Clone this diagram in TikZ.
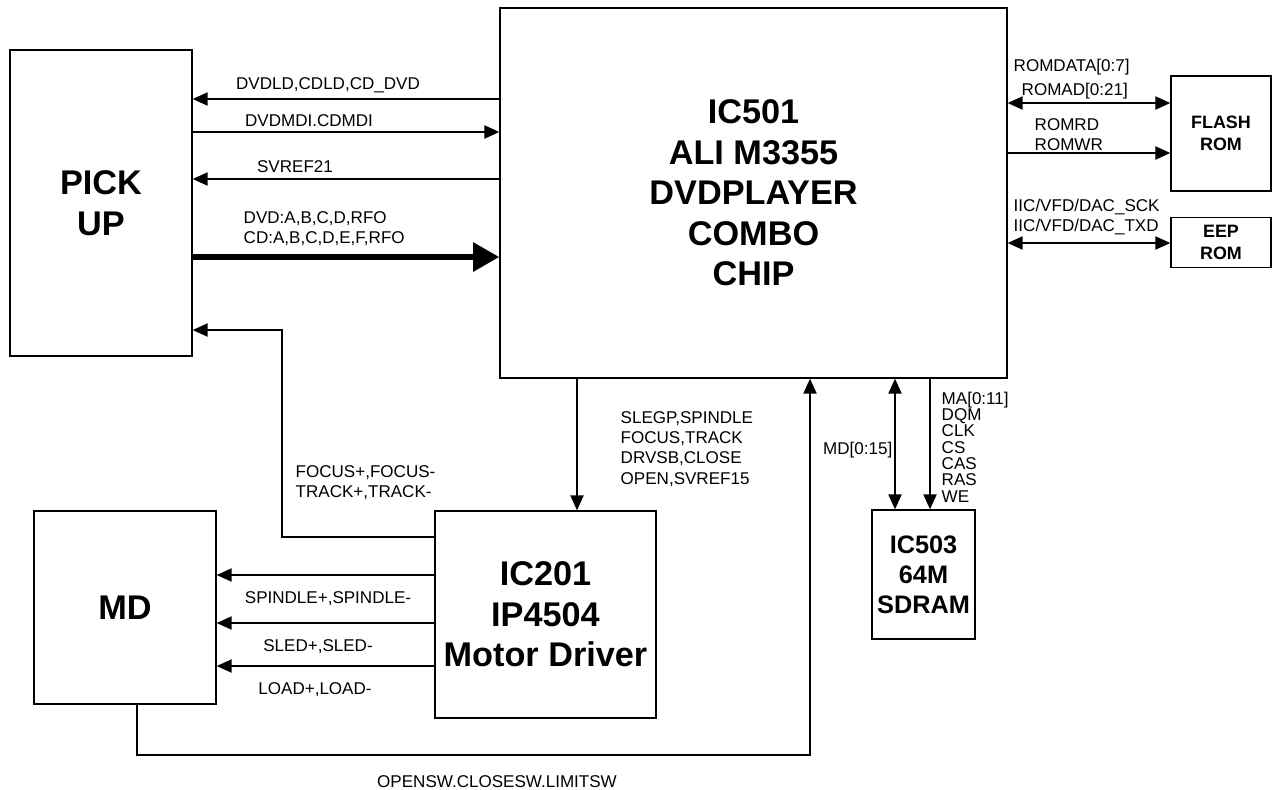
\documentclass[tikz,border=0pt]{standalone}
\usepackage{fontspec}
\setmainfont{Liberation Sans}
\usepackage{tikz}
\usetikzlibrary{arrows.meta}
\usetikzlibrary{positioning}

\begin{document}
\begin{tikzpicture}[x=0.02cm,y=-0.02cm,>={Triangle[length=8.5pt,width=7.5pt]},
	line width=0.8pt,
	main node/.style={draw,rectangle,inner sep=0pt,align=center,
		font=\fontsize{19.5}{23}\selectfont\bfseries},
	rom node/.style={draw,rectangle,inner sep=0pt,align=center,minimum width=2cm,
		font=\fontsize{10.2}{12.5}\selectfont\bfseries},
	sig/.style={inner sep=0pt,align=left,font=\fontsize{9.7}{11.5}\selectfont},
	bus/.style={->,line width=3.4pt,>={Triangle[length=15pt,width=16pt]}}]

	\useasboundingbox (0,0) rectangle (1273,789);

	% blocks
	\node[main node, minimum width=3.64cm, minimum height=6.12cm] (pick) at (101,203) {PICK\\UP};
	\node[main node, minimum width=10.14cm, minimum height=7.4cm] (chip) at (753.5,193) {IC501\\ALI M3355\\DVDPLAYER\\COMBO\\CHIP};
	\node[rom node, minimum height=2.3cm] (flash) at (1221,133.5) {FLASH\\ROM};
	\node[rom node, minimum height=1cm, below=0.5cm of flash] (eep) {EEP\\ROM};
	\node[main node, minimum width=3.64cm, minimum height=3.86cm] (md) at (125,607.5) {MD};
	\node[main node, minimum width=4.42cm, minimum height=4.14cm] (drv) at (545.5,614.5) {IC201\\IP4504\\Motor Driver};
	\node[main node, minimum width=2.06cm, minimum height=2.58cm,
		font=\fontsize{14.4}{17}\selectfont\bfseries] (ram) at (923.5,574.5) {IC503\\64M\\SDRAM};

	% pick up <-> chip
	\draw[->] (chip.west |- 0,99) -- (pick.east |- 0,99);
	\draw[->] (pick.east |- 0,132) -- (chip.west |- 0,132);
	\draw[->] (chip.west |- 0,179) -- (pick.east |- 0,179);
	\draw[bus] (pick.east |- 0,257) -- (chip.west |- 0,257);
	\node[sig] (ldtxt) at (328,85) {DVDLD,CDLD,CD\_DVD};
	\node[sig] (mditxt) at (309,121) {DVDMDI.CDMDI};
	\node[sig] (reftxt) at (295,167) {SVREF21};
	\node[sig, anchor=west] (rftxt) at (243,229) {DVD:A,B,C,D,RFO\\CD:A,B,C,D,E,F,RFO};

	% motor driver
	\draw[->] (drv.west |- 0,537) -| (282,330) -- (pick.east |- 0,330);
	\node[sig, anchor=west] (fctxt) at (295,483) {FOCUS+,FOCUS-\\TRACK+,TRACK-};
	\foreach \y in {575,623,666}
		\draw[->] (drv.west |- 0,\y) -- (md.east |- 0,\y);
	\node[sig] (sptxt) at (328,599) {SPINDLE+,SPINDLE-};
	\node[sig] (sltxt) at (318,647) {SLED+,SLED-};
	\node[sig] (lotxt) at (315,690) {LOAD+,LOAD-};

	\draw[->] (chip.south -| 577,0) -- (drv.north -| 577,0);
	\node[sig, anchor=west] (ctltxt) at (620,449) {SLEGP,SPINDLE\\FOCUS,TRACK\\DRVSB,CLOSE\\OPEN,SVREF15};

	\draw[->] (md.south -| 137,0) |- (810,755) -- (chip.south -| 810,0);
	\node[sig] (swtxt) at (497,782) {OPENSW.CLOSESW.LIMITSW};

	% sdram
	\draw[<->] (chip.south -| 895,0) -- (ram.north -| 895,0);
	\draw[->] (chip.south -| 930,0) -- (ram.north -| 930,0);
	\node[sig, anchor=east] (mdtxt) at (893,450) {MD[0:15]};
	\node[sig, anchor=west, font=\fontsize{9.7}{9.3}\selectfont] (matxt) at (941,447) {MA[0:11]\\DQM\\CLK\\CS\\CAS\\RAS\\WE};

	% flash and eeprom
	\draw[<->] (chip.east |- 0,103) -- (flash.west |- 0,103);
	\node[sig, anchor=west] (datxt) at (1013,67) {ROMDATA[0:7]};
	\node[sig, anchor=west] (adtxt) at (1021,91) {ROMAD[0:21]};
	\draw[->] (chip.east |- 0,153) -- (flash.west |- 0,153);
	\node[sig, anchor=west] (rwtxt) at (1034,135) {ROMRD\\ROMWR};
	\draw[<->] (chip.east |- 0,243) -- (eep.west |- 0,243);
	\node[sig, anchor=west] (iictxt) at (1013,217) {IIC/VFD/DAC\_SCK\\IIC/VFD/DAC\_TXD};
\end{tikzpicture}
\end{document}
